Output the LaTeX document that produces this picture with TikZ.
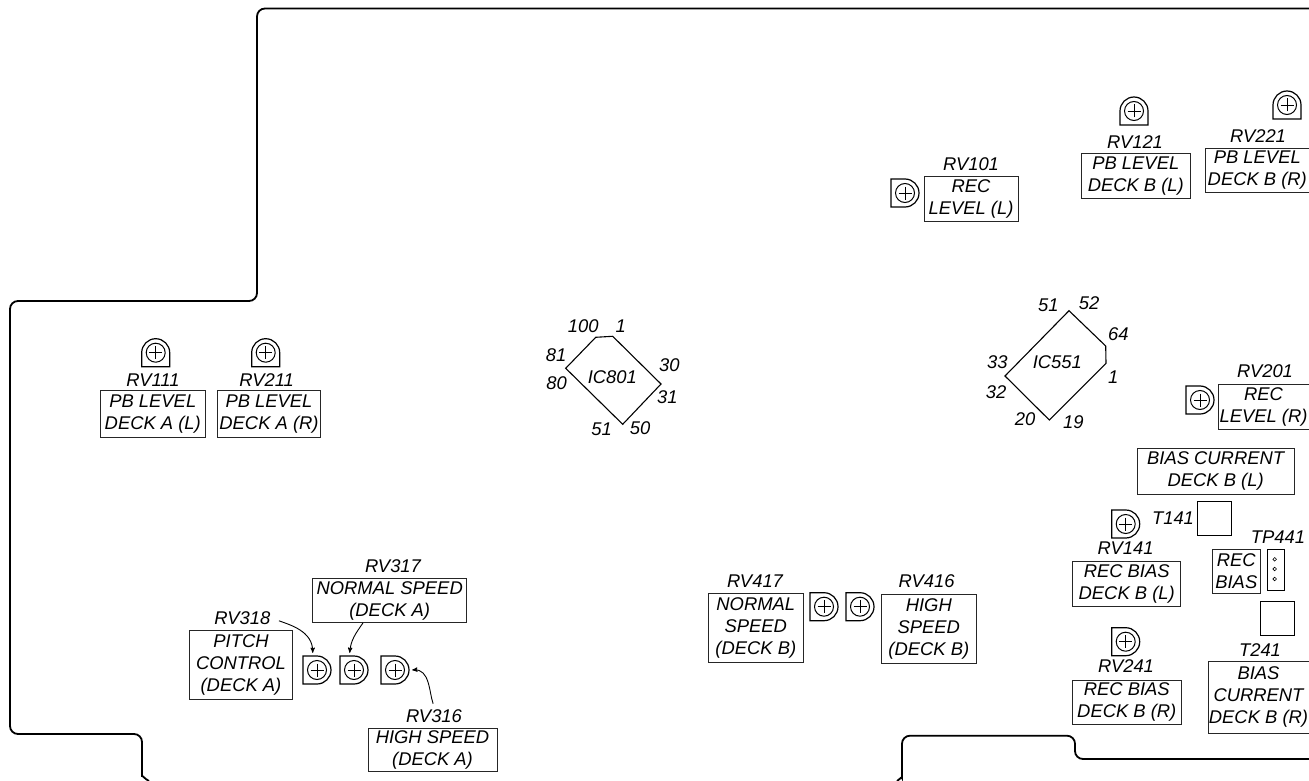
\documentclass[tikz,border=0pt]{standalone}
\usepackage{fontspec}
\setmainfont{Liberation Sans}
\usetikzlibrary{arrows}
\begin{document}
\begin{tikzpicture}[>=stealth', x=1pt, y=-1pt, text=black,
  every node/.style={font=\fontsize{18.4}{22}\selectfont\itshape, inner sep=0pt},
  tag/.style={align=center},
  plate/.style={draw=black!85, line width=.8pt, align=center},
  lead/.style={->, line width=.9pt, black},
  chip/.style={line width=1.1pt},
  board/.style={line width=1.8pt, rounded corners=8pt},
  square/.style={draw, line width=1pt, minimum size=34pt},
  pot/.pic={
    \draw[line width=1.2pt] (-14,-14) -- (0,-14) arc[start angle=90, end angle=-90, radius=14pt] -- (-14,14) -- cycle;
    \node[circle, draw, line width=1pt, minimum size=19pt] (-c) at (0,0) {};
    \draw[line width=.7pt] (-6.5,0) -- (6.5,0) (0,-6.5) -- (0,6.5);
    \node[minimum size=34pt] (-d) at (0,0) {};
  }]
  \useasboundingbox (0,0) rectangle (1309,781);

  \draw[board] (1309,8.5) -- (257,8.5) -- (257,301) -- (10,301) -- (10,734) -- (142,734) -- (142,768)
    .. controls (142,775) and (145,779) .. (149,781);
  \draw[board] (897,781) .. controls (900,779) and (902,776) .. (902,770)
    -- (902,735.7) -- (1075,735.7) -- (1075,759) -- (1309,759);

  \draw[chip] (595.7,337.3) -- (612.7,336.3) -- (661,384) -- (622.7,424.3) -- (565.7,368.3) -- cycle;
  \draw[chip] (1069,310.7) -- (1105.7,346) -- (1106,363.3) -- (1049.3,420) -- (1005,376) -- cycle;
  \node[tag] (ic801) at (612.3,376.7) {IC801};
  \node[tag] (ic551) at (1057.3,362.3) {IC551};
  \foreach \pin/\x/\y in {100/583.3/325.7, 1/620.7/325.7, 81/556/355, 80/556.7/382.7,
      30/669.3/365, 31/667.3/397.3, 51/601.7/429.3, 50/640/428.3}
    \node[tag] (a\pin) at (\x,\y) {\pin};
  \foreach \pin/\x/\y in {51/1048.3/305.7, 52/1089/303.3, 64/1118.3/334, 1/1113.3/376.7,
      33/997.3/362.3, 32/996/392.3, 20/1025/419, 19/1073.3/422.3}
    \node[tag] (b\pin) at (\x,\y) {\pin};

  \pic (p101) at (905,193) {pot};
  \pic[rotate=90] (p121) at (1134,111) {pot};
  \pic[rotate=90] (p221) at (1287,105) {pot};
  \pic[rotate=90] (p111) at (155.7,352.7) {pot};
  \pic[rotate=90] (p211) at (265.7,352.7) {pot};
  \pic (p201) at (1200,400) {pot};
  \pic (p141) at (1125.7,524) {pot};
  \pic (p241) at (1125.7,641.7) {pot};
  \pic (p417) at (824,606.7) {pot};
  \pic (p416) at (860,606.7) {pot};
  \pic (p318) at (317,670) {pot};
  \pic (p317) at (354,670) {pot};
  \pic (p316) at (395,670) {pot};

  \foreach \nm/\x/\y in {101/971/164, 121/1135/141.7, 221/1258/135.7, 111/153/380, 211/266.7/380,
      201/1265/371, 141/1125.7/548.3, 241/1126/666, 417/755/580.7, 416/926.7/580.7,
      318/242.3/617.7, 317/393/566, 316/434/716}
    \node[tag] (l\nm) at (\x,\y) {RV\nm};

  \node[plate, minimum width=94pt, minimum height=45pt] (b101) at (971,198.5) {REC\\LEVEL (L)};
  \node[plate, minimum width=108.3pt, minimum height=45pt] (b121) at (1135.8,175.8) {PB LEVEL\\DECK B (L)};
  \node[plate, minimum width=103.3pt, minimum height=44pt] (b221) at (1257.3,170.3) {PB LEVEL\\DECK B (R)};
  \node[plate, minimum width=105.7pt, minimum height=46.6pt] (b111) at (152.8,414) {PB LEVEL\\DECK A (L)};
  \node[plate, minimum width=103.4pt, minimum height=46.6pt] (b211) at (269,414) {PB LEVEL\\DECK A (R)};
  \node[plate, minimum width=91pt, minimum height=45pt] (b201) at (1263.5,407) {REC\\LEVEL (R)};
  \node[plate, minimum width=156.7pt, minimum height=46pt] (bdeck) at (1215.6,471) {BIAS CURRENT\\DECK B (L)};
  \node[plate, minimum width=108pt, minimum height=45pt] (b141) at (1126.7,583.5) {REC BIAS\\DECK B (L)};
  \node[plate, minimum width=108.3pt, minimum height=44pt] (b241) at (1126.8,702) {REC BIAS\\DECK B (R)};
  \node[plate, minimum width=47.3pt, minimum height=44.3pt] (brec) at (1236.3,571.2) {REC\\BIAS};
  \node[plate, minimum width=101pt, minimum height=72pt] (bt241) at (1258.5,697) {BIAS\\CURRENT\\DECK B (R)};
  \node[plate, minimum width=95pt, minimum height=69.4pt] (b417) at (755.8,628) {NORMAL\\SPEED\\(DECK B)};
  \node[plate, minimum width=94.3pt, minimum height=69pt] (b416) at (928.8,628.8) {HIGH\\SPEED\\(DECK B)};
  \node[plate, minimum width=103.4pt, minimum height=68.6pt] (b318) at (241,665) {PITCH\\CONTROL\\(DECK A)};
  \node[plate, minimum width=154pt, minimum height=44pt] (b317) at (389.7,600.5) {NORMAL SPEED\\(DECK A)};
  \node[plate, minimum width=129pt, minimum height=43pt] (b316) at (432.5,749.5) {HIGH SPEED\\(DECK A)};

  \node[square, minimum size=34pt] (t141) at (1214.7,518.3) {};
  \node[tag] (lt141) at (1173,518) {T141};
  \node[square, minimum size=34pt] (t241) at (1277.2,618.7) {};
  \node[tag] (lt241) at (1260,650) {T241};
  \node[tag] (ltp441) at (1278,536.7) {TP441};
  \node[draw, line width=1pt, minimum width=16.6pt, minimum height=41pt] (tp441) at (1276,569.5) {};
  \foreach \y in {559.3,569,579}
    \draw[line width=.6pt] (1274.7,\y) circle[radius=1.8pt];

  \draw[lead, shorten <=9pt] (l318.east) to[out=-20, in=90] (p318-d.104);
  \draw[lead] (b317.-140) to[out=-125, in=85] (p317-d.104);
  \draw[lead, shorten <=6pt] (l316.80) to[out=110, in=5] (p316-d.0);
\end{tikzpicture}
\end{document}
